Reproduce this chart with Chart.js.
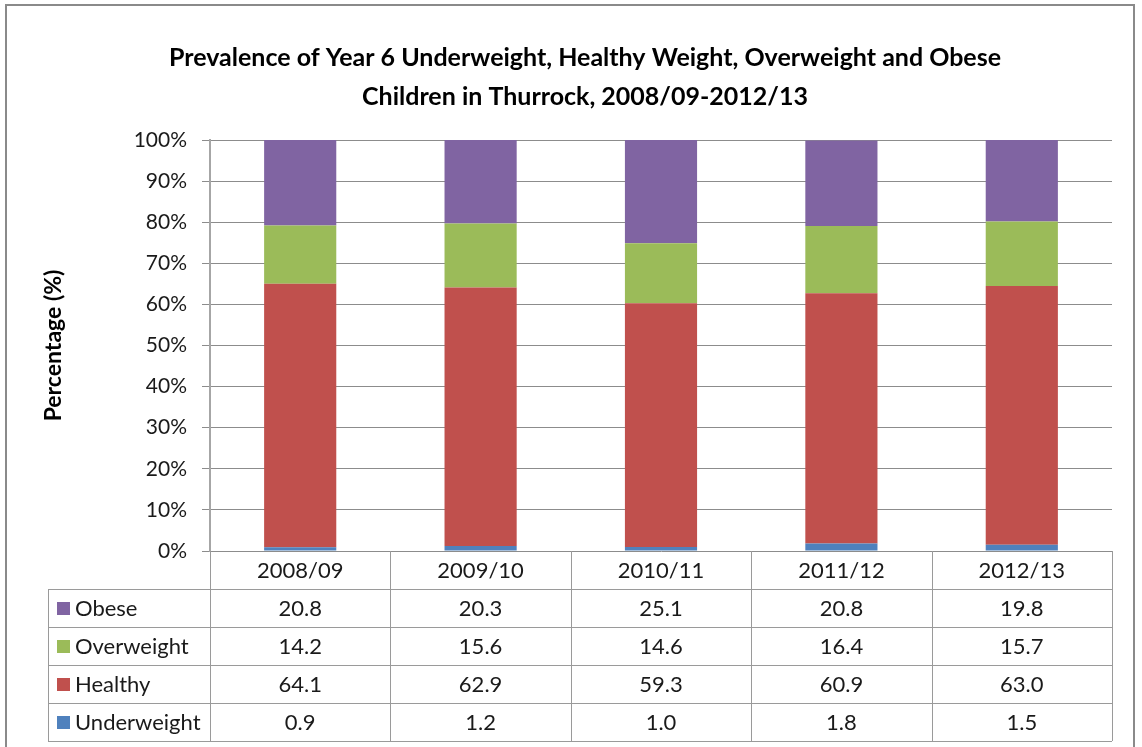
<!DOCTYPE html>
<html>
<head>
<meta charset="utf-8">
<script src="https://cdn.jsdelivr.net/npm/chart.js@4"></script>
<style>
    html, body { margin: 0; padding: 0; background: #fff; }
    #wrap { width: 1142px; height: 747px; position: relative; }
</style>
</head>
<body>
<div id="wrap"><canvas id="weightChart"></canvas></div>
<script>
// --- Data ---
const years = ['2008/09', '2009/10', '2010/11', '2011/12', '2012/13'];
const underweight = [0.9, 1.2, 1.0, 1.8, 1.5];
const healthy = [64.1, 62.9, 59.3, 60.9, 63.0];
const overweight = [14.2, 15.6, 14.6, 16.4, 15.7];
const obese = [20.8, 20.3, 25.1, 20.8, 19.8];

const titleLines = [
    'Prevalence of Year 6 Underweight, Healthy Weight, Overweight and Obese',
    'Children in Thurrock, 2008/09-2012/13'
];

const FONT = 'Lato, "Open Sans", sans-serif';
const GRID = '#8c8c8c';
const TABLE_LINE = '#9a9a9a';

/**
 * Draws the outer frame and the two-line title.
 */
const frameTitlePlugin = {
    id: 'frameTitle',
    afterDraw(chart) {
        const ctx = chart.ctx;
        ctx.save();
        ctx.strokeStyle = '#8a8a8a';
        ctx.lineWidth = 2;
        ctx.strokeRect(6, 5, 1128, 760);

        ctx.fillStyle = '#000';
        ctx.font = 'bold 25px ' + FONT;
        ctx.textAlign = 'center';
        ctx.textBaseline = 'middle';
        ctx.fillText(titleLines[0], 585, 58);
        ctx.fillText(titleLines[1], 585, 97);
        ctx.restore();
    }
};

/**
 * Draws the Excel-style data table under the plot, using the x scale
 * to line up the columns with the bars.
 */
const dataTablePlugin = {
    id: 'dataTable',
    afterDraw(chart) {
        const ctx = chart.ctx;
        const xs = chart.scales.x;
        const area = chart.chartArea;
        const colW = (area.right - area.left) / years.length;
        const rowH = 38;
        const top = area.bottom;
        const labelLeft = 48;
        // Rows listed top-down like the legend
        const rows = [...chart.data.datasets].reverse();

        ctx.save();
        ctx.strokeStyle = TABLE_LINE;
        ctx.lineWidth = 1;

        // horizontal lines
        for (let r = 1; r <= rows.length + 1; r++) {
            const y = Math.round(top + r * rowH) + 0.5;
            ctx.beginPath();
            ctx.moveTo(labelLeft, y);
            ctx.lineTo(area.right, y);
            ctx.stroke();
        }
        // left edge of label column
        ctx.beginPath();
        ctx.moveTo(labelLeft + 0.5, top + rowH);
        ctx.lineTo(labelLeft + 0.5, top + rowH * (rows.length + 1));
        ctx.stroke();
        // column separators
        for (let c = 0; c <= years.length; c++) {
            const x = Math.round(area.left + c * colW) + 0.5;
            ctx.beginPath();
            ctx.moveTo(x, top);
            ctx.lineTo(x, top + rowH * (rows.length + 1));
            ctx.stroke();
        }

        ctx.fillStyle = '#1a1a1a';
        ctx.font = '22px ' + FONT;
        ctx.textAlign = 'center';
        ctx.textBaseline = 'middle';
        years.forEach((yr, i) => {
            ctx.fillText(yr, xs.getPixelForValue(i), top + rowH / 2 + 1);
        });

        rows.forEach((ds, r) => {
            const cy = top + rowH * (r + 1) + rowH / 2 + 1;
            ctx.fillStyle = ds.backgroundColor;
            ctx.fillRect(57, cy - 7, 13, 13);
            ctx.fillStyle = '#1a1a1a';
            ctx.textAlign = 'left';
            ctx.fillText(ds.label, 75, cy);
            ctx.textAlign = 'center';
            ds.data.forEach((v, i) => {
                ctx.fillText(v.toFixed(1), xs.getPixelForValue(i), cy);
            });
        });
        ctx.restore();
    }
};

const ctx = document.getElementById('weightChart').getContext('2d');
new Chart(ctx, {
    type: 'bar',
    data: {
        labels: years,
        datasets: [
            { label: 'Underweight', data: underweight, backgroundColor: '#4F81BD' },
            { label: 'Healthy', data: healthy, backgroundColor: '#C0504D' },
            { label: 'Overweight', data: overweight, backgroundColor: '#9BBB59' },
            { label: 'Obese', data: obese, backgroundColor: '#8064A2' }
        ]
    },
    options: {
        responsive: true,
        maintainAspectRatio: false,
        animation: false,
        devicePixelRatio: 1,
        layout: { padding: { left: 30, top: 140, right: 30, bottom: 196 } },
        datasets: { bar: { barPercentage: 0.4, categoryPercentage: 1.0 } },
        plugins: {
            legend: { display: false },
            title: { display: false },
            tooltip: { enabled: false }
        },
        scales: {
            x: {
                stacked: true,
                display: false
            },
            y: {
                stacked: true,
                min: 0,
                max: 100,
                afterFit: scale => { scale.width = 180; },
                ticks: {
                    stepSize: 10,
                    padding: 15,
                    color: '#1a1a1a',
                    font: { family: FONT, size: 21 },
                    callback: v => v + '%'
                },
                grid: { color: GRID, tickLength: 8, lineWidth: 1 },
                border: { color: '#a6a6a6', width: 2 },
                title: {
                    display: true,
                    text: 'Percentage (%)',
                    color: '#000',
                    font: { family: FONT, size: 23, weight: 'bold' },
                    padding: { top: 10 }
                }
            }
        }
    },
    plugins: [frameTitlePlugin, dataTablePlugin]
});
</script>
</body>
</html>
